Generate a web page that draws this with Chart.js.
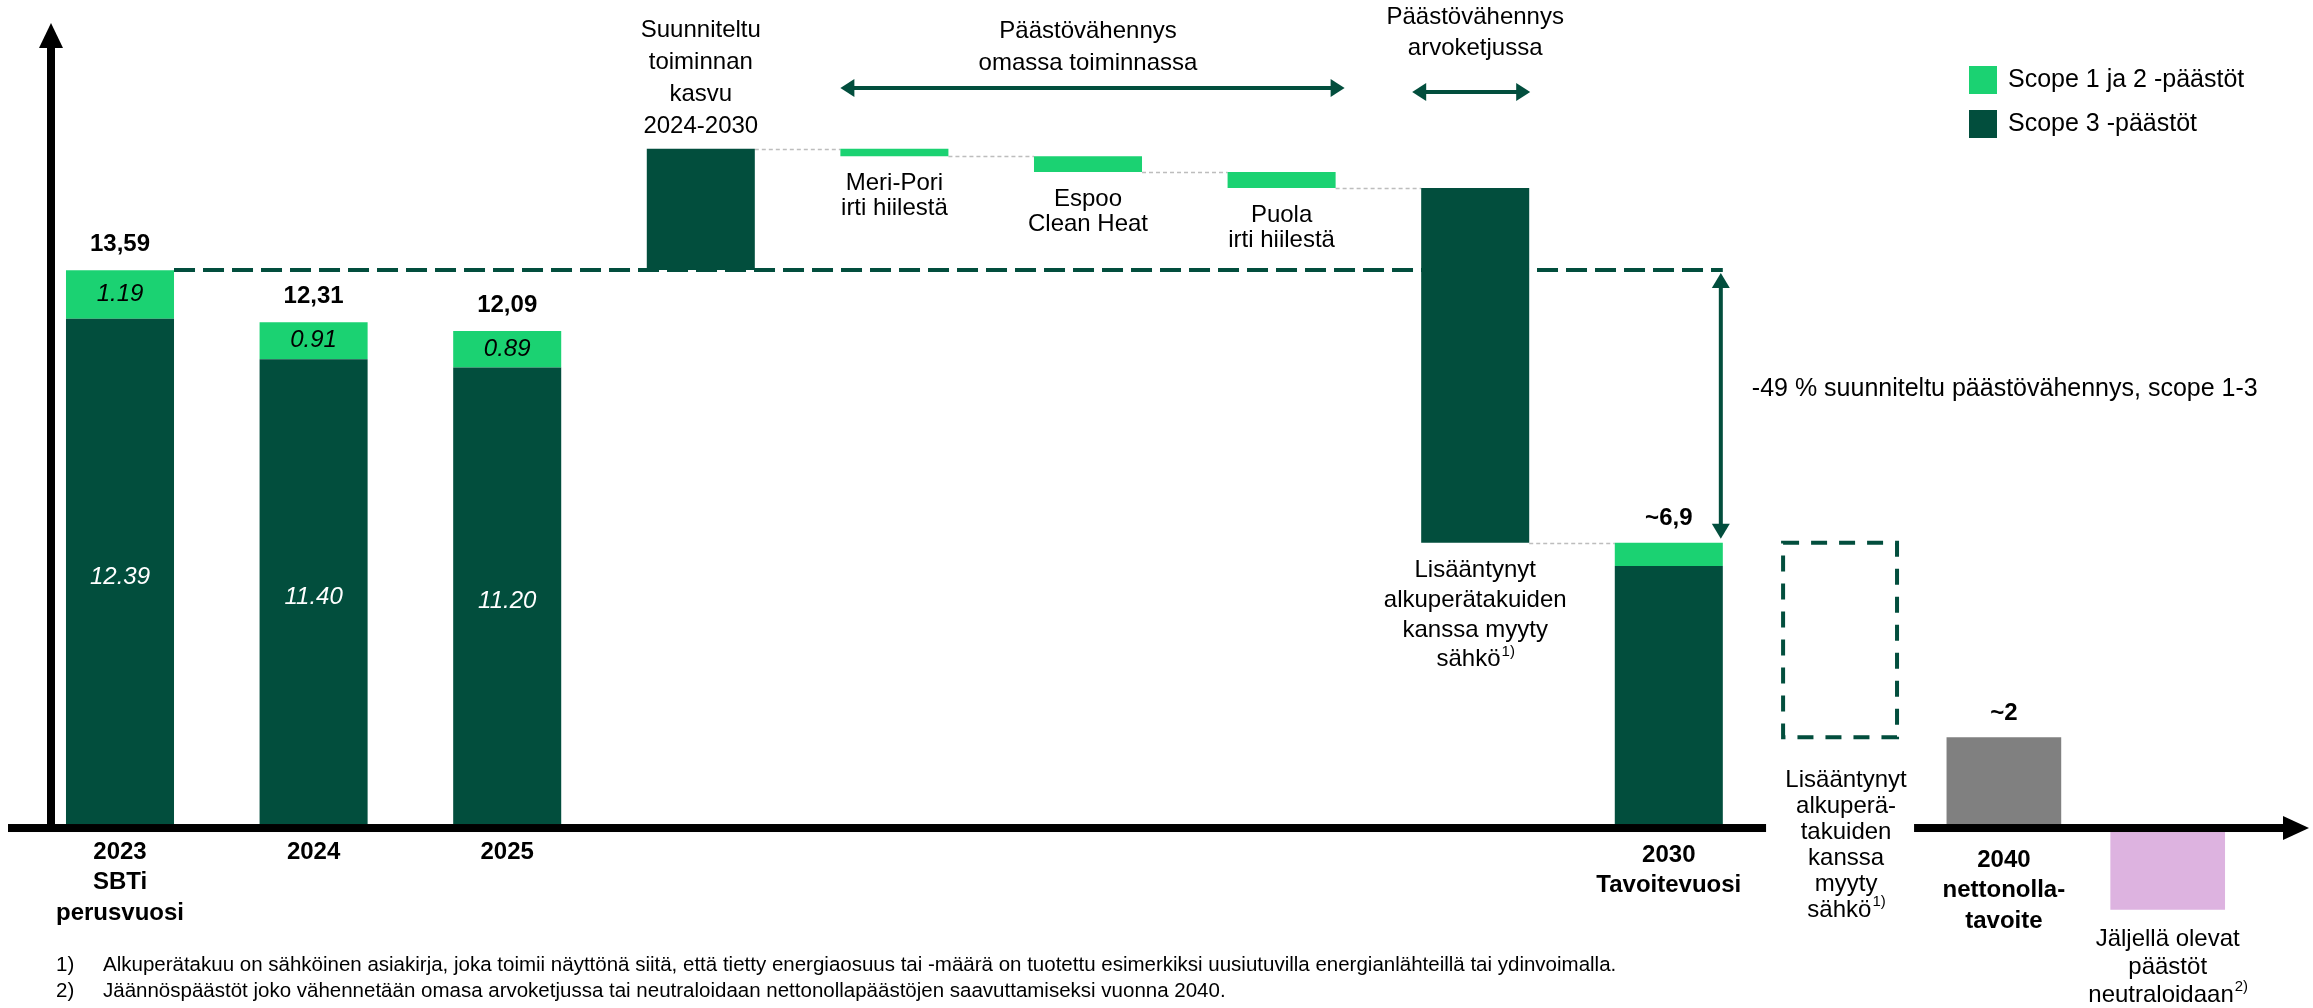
<!DOCTYPE html>
<html>
<head>
<meta charset="utf-8">
<script src="https://cdn.jsdelivr.net/npm/chart.js@4.4.1/dist/chart.umd.min.js"></script>
<style>
  html, body { margin: 0; padding: 0; background: #fff; }
  canvas { display: block; }
</style>
</head>
<body>
<canvas id="myChart" width="2313" height="1008"></canvas>
<script>
// slots on the main x axis, then the slots after the 2030 target
const categories = ['2023', '2024', '2025', 'Kasvu 2024-2030', 'Meri-Pori', 'Espoo', 'Puola', 'Arvoketju', '2030'];
const laterCategories = ['Alkuperätakuut', '2040', 'Neutralointi'];

// milj. t CO2e
const scope3 = [12.39, 11.40, 11.20];
const scope12 = [1.19, 0.91, 0.89];
const totals = [13.59, 12.31, 12.09];
const growth = 2.97;
const ownReductions = [0.18, 0.39, 0.39];      // Meri-Pori, Espoo, Puola
const valueChainReduction = 8.70;
const scope3_2030 = 6.33;
const scope12_2030 = 0.57;
const gosBox = [2.13, 6.90];
const netZero2040 = 2.13;
const neutralised = -2.10;

const approxLabels = ['~6,9', '~2'];

const DARK = '#024E3D';
const LIGHT = '#1BD272';
const GREY = '#808080';
const PINK = '#DDB3E0';
const FONT = "'Liberation Sans', Arial, sans-serif";

// build floating bars for the main axis
const n = categories.length;
const dark = Array(n).fill(null);
const light = Array(n).fill(null);

scope3.forEach((v, i) => { dark[i] = [0, v]; light[i] = [v, v + scope12[i]]; });
let level = totals[0] + growth;
dark[3] = [totals[0], level];
const connectorLevels = [level];
ownReductions.forEach((r, k) => {
  light[4 + k] = [level - r, level];
  level -= r;
  connectorLevels.push(level);
});
dark[7] = [level - valueChainReduction, level];
level -= valueChainReduction;
connectorLevels.push(level);
dark[8] = [0, scope3_2030];
light[8] = [scope3_2030, scope3_2030 + scope12_2030];

// second axis (wider spacing before, tighter after 2030)
const xLabels = categories.concat(['', '', '']);
const x2Labels = Array(10).fill('').concat(laterCategories);
const m = x2Labels.length;
const box = Array(m).fill(null);
const grey = Array(m).fill(null);
const pink = Array(m).fill(null);
box[10] = gosBox;
grey[11] = [0, netZero2040];
pink[12] = [neutralised, 0];

function txt(ctx, s, x, y, font, color, align) {
  ctx.font = font;
  ctx.fillStyle = color;
  ctx.textAlign = align || 'center';
  ctx.textBaseline = 'middle';
  ctx.fillText(s, x, y);
}

// text with superscript ending, centered
function txtSup(ctx, s, sup, x, y, font, supFont, color) {
  ctx.font = font;
  const w1 = ctx.measureText(s).width;
  ctx.font = supFont;
  const w2 = ctx.measureText(sup).width;
  const left = x - (w1 + w2) / 2;
  txt(ctx, s, left, y, font, color, 'left');
  txt(ctx, sup, left + w1 + 1, y - 8, supFont, color, 'left');
}

function block(ctx, arr, x, y0, lh, font, color) {
  arr.forEach((s, k) => {
    const mm = s.match(/^(.*?)([¹²]\))$/);
    if (mm) {
      txtSup(ctx, mm[1], mm[2] === '¹)' ? '1)' : '2)', x, y0 + k * lh, font, '15px ' + FONT, color);
    } else {
      txt(ctx, s, x, y0 + k * lh, font, color);
    }
  });
}

function arrowHead(ctx, x, y, dir, len, half) {
  // tip at (x,y)
  ctx.beginPath();
  ctx.moveTo(x, y);
  if (dir === 'up') { ctx.lineTo(x - half, y + len); ctx.lineTo(x + half, y + len); }
  if (dir === 'down') { ctx.lineTo(x - half, y - len); ctx.lineTo(x + half, y - len); }
  if (dir === 'left') { ctx.lineTo(x + len, y - half); ctx.lineTo(x + len, y + half); }
  if (dir === 'right') { ctx.lineTo(x - len, y - half); ctx.lineTo(x - len, y + half); }
  ctx.closePath();
  ctx.fill();
}

function doubleArrowH(ctx, x1, x2, y) {
  ctx.save();
  ctx.strokeStyle = DARK;
  ctx.fillStyle = DARK;
  ctx.lineWidth = 4;
  ctx.beginPath();
  ctx.moveTo(x1 + 8, y);
  ctx.lineTo(x2 - 8, y);
  ctx.stroke();
  arrowHead(ctx, x1, y, 'left', 14, 9);
  arrowHead(ctx, x2, y, 'right', 14, 9);
  ctx.restore();
}

function slotBar(chart, i) {
  for (let d = 0; d < 2; d++) {
    if (chart.data.datasets[d].data[i] !== null) return chart.getDatasetMeta(d).data[i];
  }
  return null;
}

const decor = {
  id: 'decor',
  beforeDatasetsDraw(chart) {
    const ctx = chart.ctx;
    const y = chart.scales.y;
    ctx.save();
    // base year level line
    const b0 = chart.getDatasetMeta(0).data[0];
    const b8 = chart.getDatasetMeta(0).data[8];
    ctx.strokeStyle = DARK;
    ctx.lineWidth = 4;
    ctx.setLineDash([21, 8]);
    ctx.beginPath();
    ctx.moveTo(b0.x + b0.width / 2, y.getPixelForValue(totals[0]));
    ctx.lineTo(b8.x + b8.width / 2, y.getPixelForValue(totals[0]));
    ctx.stroke();
    // connectors
    ctx.strokeStyle = '#bdbdbd';
    ctx.lineWidth = 1.5;
    ctx.setLineDash([4, 3]);
    connectorLevels.forEach((v, k) => {
      const a = slotBar(chart, 3 + k), b = slotBar(chart, 4 + k);
      const py = Math.round(y.getPixelForValue(v)) + 0.5;
      ctx.beginPath();
      ctx.moveTo(a.x + a.width / 2, py);
      ctx.lineTo(b.x - b.width / 2, py);
      ctx.stroke();
    });
    ctx.restore();
  },
  afterDatasetsDraw(chart) {
    const ctx = chart.ctx;
    const xs = chart.scales.x, x2 = chart.scales.x2, ys = chart.scales.y;
    const meta = d => chart.getDatasetMeta(d).data;
    ctx.save();

    // dashed box
    const bx = meta(2)[10];
    ctx.strokeStyle = DARK;
    ctx.lineWidth = 4;
    ctx.setLineDash([16, 12]);
    ctx.strokeRect(bx.x - bx.width / 2 + 2, Math.min(bx.y, bx.base), bx.width - 4, Math.abs(bx.base - bx.y));
    ctx.setLineDash([]);

    // axes
    const axisY = ys.getPixelForValue(0) + 4;
    ctx.fillStyle = '#000';
    const gapC = x2.getPixelForValue(10);
    ctx.fillRect(8, axisY - 4, gapC - 74 - 8, 8);
    ctx.fillRect(gapC + 74, axisY - 4, 2286 - gapC - 74, 8);
    arrowHead(ctx, 2309, axisY, 'right', 26, 12);
    ctx.fillRect(47, 44, 8, axisY - 44);
    arrowHead(ctx, 51, 23, 'up', 25, 12);

    // -49 % arrow
    const b30 = meta(1)[8];
    const ax = b30.x + b30.width / 2 - 2;
    const yTop = ys.getPixelForValue(totals[0]) + 3;
    const yBot = b30.y - 4;
    ctx.fillStyle = DARK;
    ctx.fillRect(ax - 2, yTop + 12, 4, yBot - yTop - 24);
    arrowHead(ctx, ax, yTop, 'up', 15, 9);
    arrowHead(ctx, ax, yBot, 'down', 15, 9);
    txt(ctx, '-49 % suunniteltu päästövähennys, scope 1-3', ax + 31, (yTop + yBot) / 2 - 17, '25px ' + FONT, '#000', 'left');

    // totals and segment values
    const bold = 'bold 24px ' + FONT;
    const ital = 'italic 24px ' + FONT;
    totals.forEach((t, i) => {
      const top = meta(1)[i];
      txt(ctx, t.toFixed(2).replace('.', ','), top.x, top.y - 26, bold, '#000');
      txt(ctx, scope12[i].toFixed(2), top.x, (top.y + top.base) / 2, ital, '#000');
      const d = meta(0)[i];
      txt(ctx, scope3[i].toFixed(2), d.x, (d.y + d.base) / 2 + 6, ital, '#fff');
    });
    txt(ctx, approxLabels[0], b30.x, b30.y - 24, bold, '#000');
    const g = meta(3)[11];
    txt(ctx, approxLabels[1], g.x, g.y - 24, bold, '#000');

    // x labels
    const reg = '24px ' + FONT;
    const xl = [[xs, 0, ['2023', 'SBTi', 'perusvuosi'], 0], [xs, 1, ['2024'], 0], [xs, 2, ['2025'], 0],
      [xs, 8, ['2030', 'Tavoitevuosi'], 3], [x2, 11, ['2040', 'nettonolla-', 'tavoite'], 8]];
    xl.forEach(([sc, i, arr, dy]) => block(ctx, arr, sc.getPixelForValue(i), axisY + 24 + dy, 30.5, bold, '#000'));
    block(ctx, ['Lisääntynyt', 'alkuperä-', 'takuiden', 'kanssa', 'myyty', 'sähkö¹)'], gapC + 6, axisY - 48, 26, reg, '#000');
    block(ctx, ['Jäljellä olevat', 'päästöt', 'neutraloidaan²)'], x2.getPixelForValue(12), axisY + 111, 28, reg, '#000');

    // waterfall labels
    const gr = meta(0)[3];
    block(ctx, ['Suunniteltu', 'toiminnan', 'kasvu', '2024-2030'], gr.x, gr.y - 22 - 3 * 32, 32, reg, '#000');
    const own = [['Meri-Pori', 'irti hiilestä'], ['Espoo', 'Clean Heat'], ['Puola', 'irti hiilestä']];
    own.forEach((arr, k) => {
      const e = meta(1)[4 + k];
      block(ctx, arr, e.x, Math.max(e.y, e.base) + 27, 25, reg, '#000');
    });
    const vc = meta(0)[7];
    block(ctx, ['Lisääntynyt', 'alkuperätakuiden', 'kanssa myyty', 'sähkö¹)'], vc.x, Math.max(vc.y, vc.base) + 28, 29.7, reg, '#000');

    // headers with arrows
    const m4 = meta(1)[4], m6 = meta(1)[6];
    block(ctx, ['Päästövähennys', 'omassa toiminnassa'], (m4.x + m6.x) / 2, 31, 32, reg, '#000');
    doubleArrowH(ctx, m4.x - m4.width / 2, m6.x + m6.width / 2 + 9, 88);
    block(ctx, ['Päästövähennys', 'arvoketjussa'], vc.x, 17, 31, reg, '#000');
    doubleArrowH(ctx, vc.x - vc.width / 2 - 9, vc.x + vc.width / 2 + 1, 92);

    // legend
    const legendItems = [chart.data.datasets[1], chart.data.datasets[0]];
    legendItems.forEach((ds, k) => {
      ctx.fillStyle = ds.backgroundColor;
      ctx.fillRect(1969, 66 + k * 44, 28, 28);
      txt(ctx, ds.label, 2008, 80 + k * 44, '25px ' + FONT, '#000', 'left');
    });

    // footnotes
    const fn = '20.5px ' + FONT;
    txt(ctx, '1)', 56, 965, fn, '#000', 'left');
    txt(ctx, 'Alkuperätakuu on sähköinen asiakirja, joka toimii näyttönä siitä, että tietty energiaosuus tai -määrä on tuotettu esimerkiksi uusiutuvilla energianlähteillä tai ydinvoimalla.', 103, 965, fn, '#000', 'left');
    txt(ctx, '2)', 56, 991, fn, '#000', 'left');
    txt(ctx, 'Jäännöspäästöt joko vähennetään omasa arvoketjussa tai neutraloidaan nettonollapäästöjen saavuttamiseksi vuonna 2040.', 103, 991, fn, '#000', 'left');

    ctx.restore();
  }
};

const ctx = document.getElementById('myChart');

new Chart(ctx, {
  type: 'bar',
  data: {
    labels: xLabels,
    datasets: [
      { label: 'Scope 3 -päästöt', data: dark, backgroundColor: DARK, xAxisID: 'x', barPercentage: 0.558 },
      { label: 'Scope 1 ja 2 -päästöt', data: light, backgroundColor: LIGHT, xAxisID: 'x', barPercentage: 0.558 },
      { label: 'Lisääntynyt alkuperätakuiden kanssa myyty sähkö', data: box, backgroundColor: 'rgba(0,0,0,0)', xAxisID: 'x2', barPercentage: 0.72 },
      { label: 'Nettonollatavoite', data: grey, backgroundColor: GREY, xAxisID: 'x2', barPercentage: 0.70 },
      { label: 'Neutraloitavat päästöt', data: pink, backgroundColor: PINK, xAxisID: 'x2', barPercentage: 0.70 }
    ]
  },
  options: {
    responsive: false,
    animation: false,
    layout: { padding: { left: 120, right: 63.4, top: 8.6, bottom: 20.9 } },
    datasets: { bar: { categoryPercentage: 1, borderWidth: 0, grouped: false, clip: false } },
    scales: {
      x: { type: 'category', labels: xLabels, stacked: true, display: false, offset: false },
      x2: { type: 'category', labels: x2Labels, stacked: true, display: false, offset: true },
      y: { display: false, min: -4, max: 20 }
    },
    plugins: {
      legend: { display: false },
      tooltip: { enabled: false }
    }
  },
  plugins: [decor]
});
</script>
</body>
</html>
